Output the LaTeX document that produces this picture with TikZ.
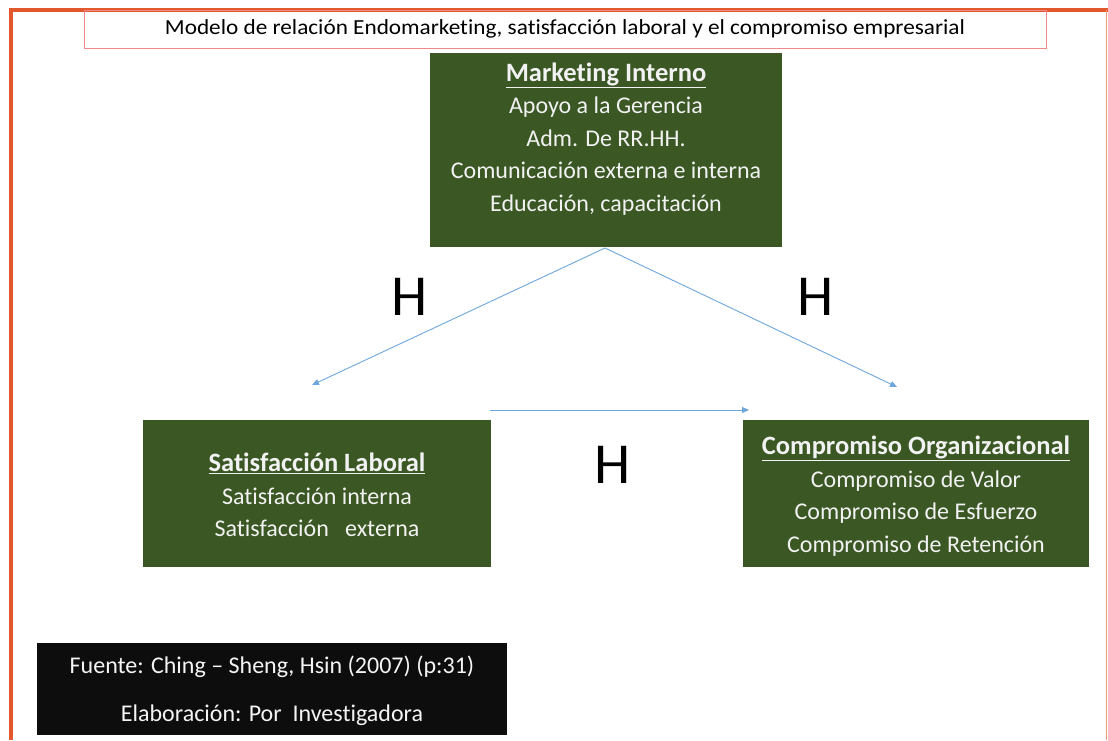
\documentclass[tikz,border=0pt]{standalone}
\usepackage{fontspec}
\setmainfont{Carlito}[Ligatures={NoCommon,TeX}]
\usetikzlibrary{arrows.meta}
\definecolor{frameorange}{HTML}{E2572B}
\definecolor{titlered}{HTML}{F08A8A}
\definecolor{boxgreen}{HTML}{3A5724}
\definecolor{linkblue}{HTML}{6FA6DC}
\definecolor{boxtext}{HTML}{F2F2F2}
\newcommand{\headline}[1]{{\fontsize{26.5}{32.5}\selectfont\textbf{\underline{#1}}}}
\tikzset{
  greenbox/.style={fill=boxgreen, draw=none, text=boxtext, align=center,
    inner sep=0pt, font=\fontsize{24}{32.5}\selectfont},
  link/.style={draw=linkblue, line width=0.9pt, -{Triangle[length=7pt,width=6pt]}},
  hlabel/.style={font=\fontsize{58}{60}\selectfont, inner sep=0pt},
}
\begin{document}
\begin{tikzpicture}[x=1pt,y=-1pt]
\useasboundingbox (0,0) rectangle (1108,740);
\fill[white] (0,0) rectangle (1108,740);
% outer frame
\draw[frameorange, line width=4pt] (11,740) -- (11,10) -- (1108,10);
\draw[frameorange!60, line width=1pt] (1106,10) -- (1106,740);
% title
\node[draw=titlered, line width=0.9pt, minimum width=962pt, minimum height=38pt,
  inner sep=0pt, font=\fontsize{21.5}{24}\selectfont] (title) at (565,29)
  {\scalebox{1.08}[1]{Modelo de relación Endomarketing, satisfacción laboral y el compromiso empresarial}};
% main boxes
\node[greenbox, minimum width=352pt, minimum height=194pt] (mk) at (606,150) {};
\node[greenbox] at (606,139)
  {\headline{Marketing Interno}\\ Apoyo a la Gerencia\\ Adm. De RR.HH.\\
   Comunicación externa e interna\\ Educación, capacitación};
\node[greenbox, minimum width=348pt, minimum height=147pt] (sl) at (317,493.5) {};
\node[greenbox] at (317,495)
  {\headline{Satisfacción Laboral}\\ Satisfacción interna\\ Satisfacción\ \ \ externa};
\node[greenbox, minimum width=346pt, minimum height=147pt] (co) at (916,493.5) {};
\node[greenbox] at (916,496)
  {\headline{Compromiso Organizacional}\\ Compromiso de Valor\\ Compromiso de Esfuerzo\\ Compromiso de Retención};
% connectors
\coordinate (top) at (605,248);
\coordinate (lend) at (312,385);
\coordinate (rend) at (897,387);
\coordinate (hs) at (490,410);
\coordinate (he) at (749,410);
\draw[link] (top) -- (lend);
\draw[link] (top) -- (rend);
\draw[link] (hs) -- (he);
% labels
\node[hlabel] (h1) at (410,297) {H};
\node[hlabel] (h2) at (816,297) {H};
\node[hlabel] (h3) at (613,465) {H};
% source note
\node[fill=black!95, minimum width=470pt, minimum height=92pt,
  inner sep=0pt] (src) at (272,689) {};
\node[text=boxtext!85, align=center, font=\fontsize{24}{48}\selectfont] at (272,691)
  {Fuente: Ching – Sheng, Hsin (2007) (p:31)\\ Elaboración: Por\ \ Investigadora};
\end{tikzpicture}
\end{document}
